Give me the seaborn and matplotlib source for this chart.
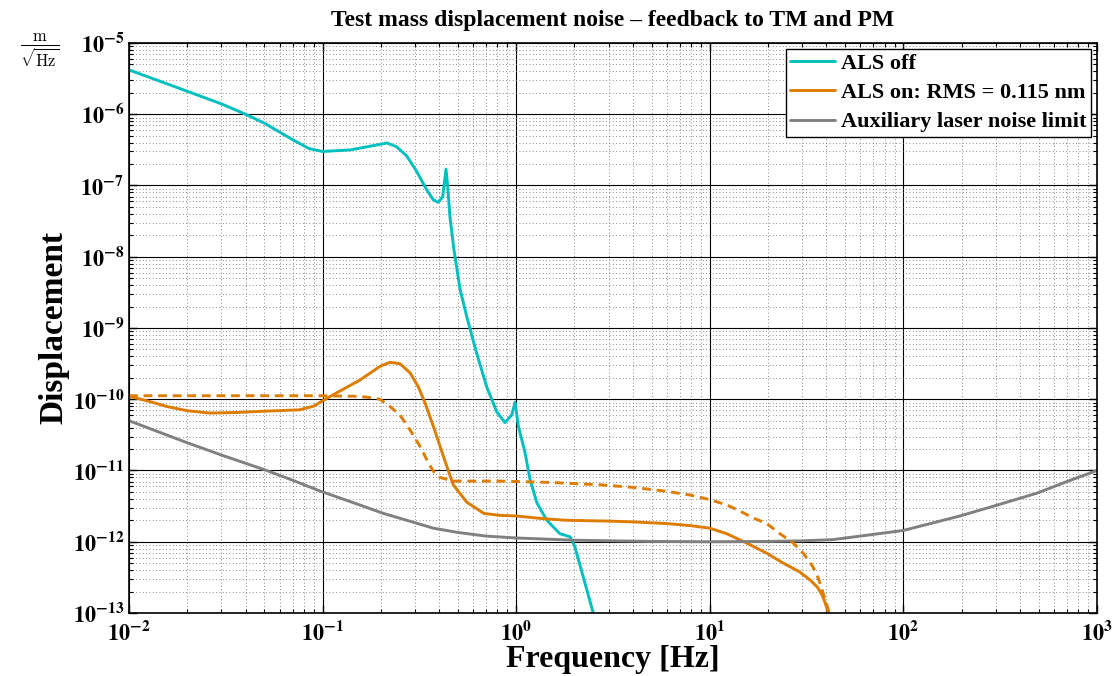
import numpy as np
import pandas as pd
import matplotlib
matplotlib.use("Agg")
import matplotlib.pyplot as plt
import seaborn as sns
from matplotlib.ticker import LogLocator, FuncFormatter, NullFormatter

# ALS off (cyan)
f_off = [0.01, 0.015, 0.02, 0.03, 0.04, 0.05, 0.07, 0.085, 0.1, 0.139, 0.19, 0.215,
         0.241, 0.272, 0.306, 0.345, 0.373, 0.395, 0.417, 0.434, 0.443, 0.455,
         0.477, 0.513, 0.555, 0.625, 0.704, 0.792, 0.875, 0.948, 0.987, 1.026,
         1.11, 1.18, 1.28, 1.44, 1.68, 1.9, 2.01, 2.2, 2.5, 2.7]
d_off = [4.2e-6, 2.8e-6, 2.1e-6, 1.4e-6, 1.0e-6, 7.5e-7, 4.4e-7, 3.3e-7, 3.0e-7,
         3.16e-7, 3.7e-7, 3.95e-7, 3.5e-7, 2.6e-7, 1.58e-7, 8.7e-8, 6.3e-8, 5.8e-8,
         6.9e-8, 1.7e-7, 9.5e-8, 3.6e-8, 1.25e-8, 3.5e-9, 1.45e-9, 4.4e-10,
         1.5e-10, 6.7e-11, 4.7e-11, 6e-11, 9.1e-11, 4.2e-11, 1.8e-11, 7.4e-12,
         3.5e-12, 2.0e-12, 1.3e-12, 1.17e-12, 8.5e-13, 3.5e-13, 1e-13, 5e-14]

# ALS on (orange solid)
f_on = [0.01, 0.0128, 0.0157, 0.02, 0.026, 0.035, 0.05, 0.076, 0.09, 0.1, 0.113,
        0.156, 0.198, 0.223, 0.251, 0.283, 0.312, 0.338, 0.373, 0.42, 0.473,
        0.555, 0.68, 0.82, 1.0, 1.4, 1.82, 3, 4, 6, 8, 10, 12.2, 15.5, 19.7, 24,
        29, 33, 36, 38, 39.4, 41, 43]
d_on = [1.1e-10, 9.3e-11, 7.9e-11, 6.9e-11, 6.4e-11, 6.5e-11, 6.8e-11, 7.1e-11,
        8e-11, 9.5e-11, 1.15e-10, 1.86e-10, 2.9e-10, 3.3e-10, 3.15e-10, 2.35e-10,
        1.5e-10, 8.9e-11, 4.2e-11, 1.6e-11, 6.3e-12, 3.6e-12, 2.5e-12, 2.35e-12,
        2.3e-12, 2.1e-12, 2.0e-12, 1.95e-12, 1.9e-12, 1.8e-12, 1.68e-12, 1.55e-12,
        1.3e-12, 9.6e-13, 6.9e-13, 5e-13, 3.8e-13, 2.9e-13, 2.3e-13, 1.8e-13,
        1.4e-13, 1e-13, 5e-14]

# ALS on, dashed (orange dashed)
f_dash = [0.01, 0.05, 0.1, 0.15, 0.169, 0.198, 0.223, 0.251, 0.283, 0.318, 0.351,
          0.373, 0.403, 0.473, 0.82, 1.5, 2.7, 4, 6, 8, 10, 12.2, 14.3, 16.8,
          19.7, 23, 27, 30.4, 34, 36.3, 38.5, 41, 43]
d_dash = [1.12e-10, 1.12e-10, 1.12e-10, 1.1e-10, 1.07e-10, 1e-10, 7.9e-11, 6e-11,
          3.7e-11, 2.2e-11, 1.3e-11, 9.8e-12, 8e-12, 7.1e-12, 7.1e-12, 6.8e-12,
          6.3e-12, 5.8e-12, 5.1e-12, 4.5e-12, 3.9e-12, 3.3e-12, 2.7e-12, 2.15e-12,
          1.8e-12, 1.3e-12, 9.6e-13, 6.9e-13, 4.5e-13, 3.1e-13, 1.9e-13, 1.1e-13,
          5e-14]

# Auxiliary laser noise limit (gray)
f_aux = [0.01, 0.02, 0.03, 0.0514, 0.07, 0.098, 0.15, 0.206, 0.3, 0.373, 0.5,
         0.7, 1.0, 2, 5, 10, 20, 30, 43, 53, 100, 196, 297, 489, 700, 1000]
d_aux = [5e-11, 2.45e-11, 1.65e-11, 1e-11, 7.3e-12, 5.1e-12, 3.4e-12, 2.5e-12,
         1.85e-12, 1.55e-12, 1.35e-12, 1.2e-12, 1.13e-12, 1.05e-12, 1.01e-12,
         1.0e-12, 1.01e-12, 1.03e-12, 1.07e-12, 1.15e-12, 1.44e-12, 2.3e-12,
         3.2e-12, 4.8e-12, 7e-12, 1e-11]

labels = ["ALS off", "ALS on: RMS = 0.115 nm", "Auxiliary laser noise limit"]
c_cyan = "#00BFBF"
c_orange = "#DE7C00"
c_gray = "#808080"

sns.set_style("ticks")
plt.rcParams['font.family'] = ['Liberation Serif', 'DejaVu Serif']
plt.rcParams['font.weight'] = 'bold'
plt.rcParams['mathtext.fontset'] = 'stix'
plt.rcParams['text.color'] = 'black'
plt.rcParams['axes.labelcolor'] = 'black'

fig = plt.figure(figsize=(11.13, 6.76), dpi=100)
ax = fig.add_axes([0.1159, 0.0932, 0.8697, 0.8432])
ax.set_xscale('log')
ax.set_yscale('log')

sns.lineplot(x=f_off, y=d_off, ax=ax, color=c_cyan, lw=2.1, sort=False)
sns.lineplot(x=f_on, y=d_on, ax=ax, color=c_orange, lw=2.1, sort=False)
sns.lineplot(x=f_aux, y=d_aux, ax=ax, color=c_gray, lw=2.1, sort=False)
sns.lineplot(x=f_dash, y=d_dash, ax=ax, color=c_orange, lw=2.1, sort=False,
             linestyle=(0, (3, 2)))

ax.set_xlim(1e-2, 1e3)
ax.set_ylim(1e-13, 1e-5)

ax.xaxis.set_major_locator(LogLocator(base=10, numticks=20))
ax.yaxis.set_major_locator(LogLocator(base=10, numticks=20))
ax.xaxis.set_minor_locator(LogLocator(base=10, subs=np.arange(2, 10), numticks=100))
ax.yaxis.set_minor_locator(LogLocator(base=10, subs=np.arange(2, 10), numticks=100))
fmt = FuncFormatter(lambda v, p: r'$\mathbf{10^{%d}}$' % int(round(np.log10(v))))
ax.xaxis.set_major_formatter(fmt)
ax.yaxis.set_major_formatter(fmt)
ax.xaxis.set_minor_formatter(NullFormatter())
ax.yaxis.set_minor_formatter(NullFormatter())

ax.grid(which='major', color='black', lw=0.8, ls='-')
ax.grid(which='minor', color='#666666', lw=0.6, ls=(0, (1, 3)))
ax.set_axisbelow(True)
ax.tick_params(which='both', direction='in', top=True, right=True, colors='black',
               labelsize=16)
ax.tick_params(which='major', length=6, width=1)
ax.tick_params(which='minor', length=3, width=0.8)
ax.tick_params(axis='x', pad=6)
for s in ax.spines.values():
    s.set_color('black')
    s.set_linewidth(1.2)

ax.set_title("Test mass displacement noise \u2013 feedback to TM and PM",
             fontsize=17, fontweight='bold', pad=12, color='black')
ax.set_xlabel("Frequency [Hz]", fontsize=23, fontweight='bold', labelpad=0)
ax.set_ylabel("Displacement", fontsize=24, fontweight='bold', labelpad=2)

fig.text(0.036, 0.925, r'$\frac{\mathrm{m}}{\sqrt{\mathrm{Hz}}}$', fontsize=17,
         math_fontfamily='cm', ha='center', va='center', fontweight='normal')

handles = ax.get_lines()[:3]
leg = ax.legend(handles, labels, loc='upper right', bbox_to_anchor=(1.0, 1.0),
                borderaxespad=0.25, prop={'weight': 'bold', 'size': 16},
                handlelength=2.0, handletextpad=0.3, labelspacing=0.4,
                borderpad=0.2, fancybox=False, framealpha=1)
leg.get_frame().set_edgecolor('black')
leg.get_frame().set_linewidth(1.0)

fig.savefig("out.png", dpi=100)
